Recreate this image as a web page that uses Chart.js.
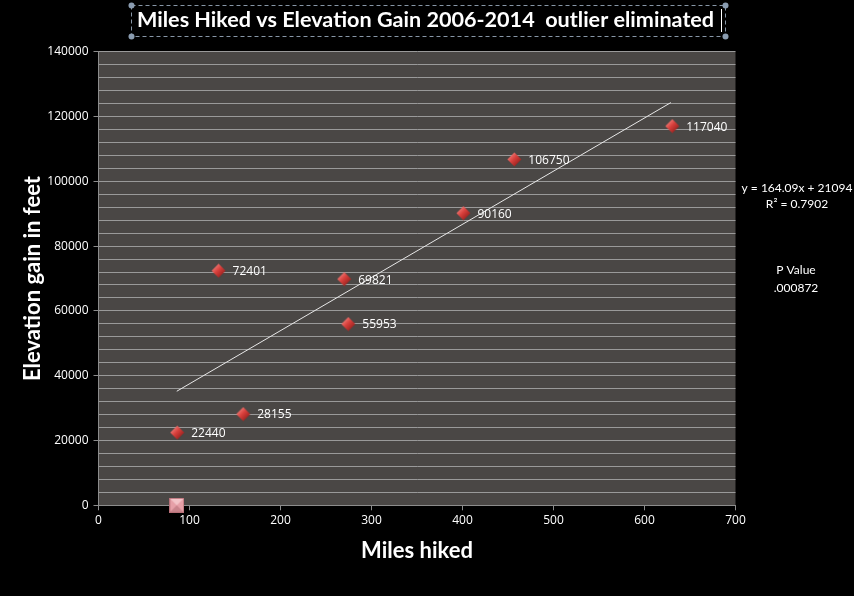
<!DOCTYPE html>
<html>
<head>
<meta charset="utf-8">
<title>Miles Hiked vs Elevation Gain</title>
<script src="https://cdn.jsdelivr.net/npm/chart.js@4.4.1/dist/chart.umd.min.js"></script>
<style>
    body { margin: 0; background: #000; }
    canvas { display: block; }
</style>
</head>
<body>
<canvas id="hikeChart" width="854" height="596"></canvas>
<script>
// data
let milesHiked = [86.5, 159, 132, 270, 274.5, 401, 457, 630.5];
let elevationGain = [22440, 28155, 72401, 69821, 55953, 90160, 106750, 117040];
let outlierMiles = [86];
let outlierGain = [0];
let trendMiles = [86, 629];
let trendGain = [35200, 124300];
let yTickValues = [0, 20000, 40000, 60000, 80000, 100000, 120000, 140000];
let chartTitle = 'Miles Hiked vs Elevation Gain 2006-2014  outlier eliminated';
let equationLines = ['y = 164.09x + 21094', 'R\u00b2 = 0.7902'];
let pValueLines = ['P Value', '.000872'];

const FONT = 'Lato';
const NUM_FONT = '"Open Sans"';


function makeDiamond() {
    let c = document.createElement('canvas');
    c.width = 15;
    c.height = 15;
    let g = c.getContext('2d');
    let grad = g.createLinearGradient(2, 2, 13, 13);
    grad.addColorStop(0, '#f48a86');
    grad.addColorStop(0.45, '#d8403c');
    grad.addColorStop(1, '#8a1a18');
    g.beginPath();
    g.moveTo(7.5, 0.5);
    g.lineTo(14.5, 7.5);
    g.lineTo(7.5, 14.5);
    g.lineTo(0.5, 7.5);
    g.closePath();
    g.fillStyle = grad;
    g.fill();
    return c;
}


function makeSquare() {
    let c = document.createElement('canvas');
    c.width = 15;
    c.height = 15;
    let g = c.getContext('2d');
    g.fillStyle = '#e6a0a8';
    g.fillRect(0, 0, 15, 15);
    g.fillStyle = '#f3c4c8';
    g.beginPath(); g.moveTo(0, 0); g.lineTo(15, 0); g.lineTo(7.5, 7.5); g.closePath(); g.fill();
    g.fillStyle = '#c9848c';
    g.beginPath(); g.moveTo(0, 15); g.lineTo(15, 15); g.lineTo(7.5, 7.5); g.closePath(); g.fill();
    g.strokeStyle = '#b87078';
    g.strokeRect(0.5, 0.5, 14, 14);
    return c;
}


const plotBackground = {
    id: 'plotBackground',
    beforeDraw(chart) {
        let { ctx, chartArea: a } = chart;
        ctx.save();
        ctx.fillStyle = '#4a4745';
        ctx.fillRect(a.left, a.top, a.right - a.left, a.bottom - a.top);
        ctx.restore();
    }
};


const pointLabels = {
    id: 'pointLabels',
    afterDatasetsDraw(chart) {
        let ctx = chart.ctx;
        let meta = chart.getDatasetMeta(0);
        ctx.save();
        ctx.font = '12px ' + NUM_FONT;
        ctx.fillStyle = '#ffffff';
        ctx.textBaseline = 'middle';
        meta.data.forEach((el, i) => {
            ctx.fillText(String(elevationGain[i]), el.x + 14, el.y + 1);
        });
        ctx.restore();
    }
};


const extraText = {
    id: 'extraText',
    afterDraw(chart) {
        let ctx = chart.ctx;
        ctx.save();

        // title box
        ctx.strokeStyle = '#8796a6';
        ctx.lineWidth = 1;
        ctx.setLineDash([4, 3]);
        ctx.strokeRect(131.5, 5.5, 594, 31);
        ctx.setLineDash([]);
        ctx.fillStyle = '#8a9cb0';
        [[131.5, 5.5], [725.5, 5.5], [131.5, 36.5], [725.5, 36.5]].forEach(p => {
            ctx.beginPath();
            ctx.arc(p[0], p[1], 3, 0, Math.PI * 2);
            ctx.fill();
        });

        ctx.fillStyle = '#ffffff';
        ctx.font = 'bold 21.6px ' + FONT;
        ctx.textBaseline = 'middle';
        ctx.textAlign = 'left';
        ctx.fillText(chartTitle, 137, 20);
        ctx.fillRect(721, 9, 1, 23);

        ctx.font = '12px ' + FONT;
        ctx.textAlign = 'center';
        ctx.fillText(equationLines[0], 797, 188);
        ctx.fillText(equationLines[1], 797, 204);
        ctx.fillText(pValueLines[0], 796, 270);
        ctx.fillText(pValueLines[1], 796, 288);
        ctx.restore();
    }
};


function createChart() {
    new Chart('hikeChart', {
        type: 'scatter',
        data: {
            datasets: [{
                data: milesHiked.map((m, i) => ({ x: m, y: elevationGain[i] })),
                pointStyle: makeDiamond(),
                order: 1
            }, {
                data: outlierMiles.map((m, i) => ({ x: m, y: outlierGain[i] })),
                pointStyle: makeSquare(),
                clip: false,
                order: 0
            }, {
                type: 'line',
                data: trendMiles.map((m, i) => ({ x: m, y: trendGain[i] })),
                borderColor: '#e8e8e8',
                borderWidth: 1,
                pointRadius: 0,
                fill: false,
                order: 2
            }]
        },
        options: {
            responsive: false,
            animation: false,
            layout: { padding: { left: 0, right: 118.5, top: 51.7, bottom: 0 } },
            plugins: {
                legend: { display: false },
                tooltip: { enabled: false }
            },
            scales: {
                x: {
                    type: 'linear',
                    min: 0,
                    max: 700,
                    ticks: {
                        stepSize: 100,
                        color: '#ffffff',
                        font: { family: NUM_FONT, size: 12 },
                        padding: 3
                    },
                    grid: { drawOnChartArea: false, tickLength: 5, tickColor: '#8c8c8c' },
                    border: { color: '#8c8c8c' },
                    title: {
                        display: true,
                        text: 'Miles hiked',
                        color: '#ffffff',
                        font: { family: FONT, size: 22, weight: 'bold' },
                        padding: { top: 0, bottom: 32 }
                    },
                    afterFit(scale) { scale.height = 90.7; }
                },
                y: {
                    min: 0,
                    max: 140000,
                    afterBuildTicks(scale) {
                        let ticks = [];
                        for (let v = 0; v <= 140000; v += 4000) ticks.push({ value: v });
                        scale.ticks = ticks;
                    },
                    ticks: {
                        autoSkip: false,
                        color: '#ffffff',
                        font: { family: NUM_FONT, size: 12 },
                        padding: 5,
                        callback: v => yTickValues.includes(v) ? String(v) : ''
                    },
                    grid: {
                        color: '#9a9a9a',
                        lineWidth: 1,
                        tickLength: 5,
                        tickColor: ctx => yTickValues.includes(ctx.tick.value) ? '#8c8c8c' : 'rgba(0,0,0,0)'
                    },
                    border: { color: '#8c8c8c' },
                    title: {
                        display: true,
                        text: 'Elevation gain in feet',
                        color: '#ffffff',
                        font: { family: FONT, size: 22, weight: 'bold' },
                        padding: { top: 20, bottom: 0 }
                    },
                    afterFit(scale) { scale.width = 98.5; }
                }
            }
        },
        plugins: [plotBackground, pointLabels, extraText]
    });
}


createChart();
</script>
</body>
</html>
